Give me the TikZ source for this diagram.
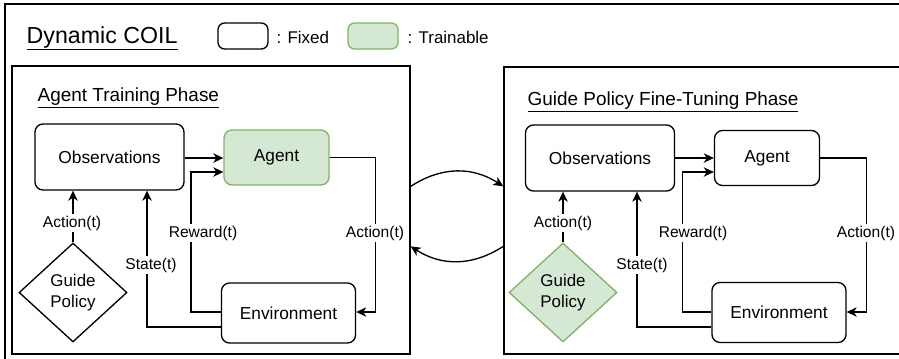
\documentclass[tikz,border=0pt]{standalone}
\usepackage{fontspec}
\setmainfont{Liberation Sans}
\usetikzlibrary{arrows.meta,shapes.geometric,calc}
\definecolor{trainfill}{HTML}{D5E8D4}
\definecolor{trainline}{HTML}{82B366}
\begin{document}
\begin{tikzpicture}[x=0.75pt,y=-0.75pt,
  line width=1pt,
  box/.style={draw, rounded corners=6pt, line width=1pt, inner sep=0pt,
    font=\fontsize{13}{15.6}\selectfont},
  obsbox/.style={box, minimum width=111.75pt, minimum height=49.5pt},
  agentbox/.style={box, minimum width=78.75pt, minimum height=41.25pt},
  envbox/.style={box, minimum width=100.5pt, minimum height=45pt},
  policy/.style={diamond, draw, line width=1pt, inner sep=0pt, align=center,
    minimum width=81pt, minimum height=74.25pt,
    font=\fontsize{12.7}{15.75}\selectfont},
  trainable/.style={fill=trainfill, draw=trainline},
  panel/.style={draw, line width=1pt, inner sep=0pt},
  keybox/.style={draw, rounded corners=5pt, line width=1pt,
    minimum width=37.5pt, minimum height=19.5pt, inner sep=0pt},
  keytext/.style={anchor=base west, inner sep=0pt,
    font=\fontsize{12.7}{15}\selectfont},
  heading/.style={anchor=base west, inner sep=0pt,
    font=\fontsize{14.2}{17}\selectfont},
  lbl/.style={fill=white, inner sep=1pt, font=\fontsize{11.7}{14}\selectfont},
  arr/.style={-{Stealth[length=7.5pt,width=7pt,inset=2.2pt]}, line width=1pt},
]
\clip (0,0) rectangle (899,358);
\useasboundingbox (0,0) rectangle (899,358);

% outer frame (runs past the right and bottom edges)
\draw[line width=1pt] (5,4) rectangle (906,366);

% title and key
\node[anchor=base west, inner sep=0pt, font=\fontsize{17.4}{21}\selectfont]
  (title) at (26,43) {\underline{Dynamic COIL}};
\node[keybox] (kfixed) at (243,36) {};
\node[keytext] (tfixed) at (276,43) {: Fixed};
\node[keybox, trainable] (ktrain) at (373,36) {};
\node[keytext] (ttrain) at (407,43) {: Trainable};

% panels
\node[panel, minimum width=298.5pt, minimum height=216pt] (lp) at (211,210) {};
\node[panel, minimum width=298.5pt, minimum height=215.25pt] (rp) at (703,210.5) {};

% ---- agent training phase ----
\node[heading] (lhead) at (37,101) {\underline{Agent Training Phase}};
\node[obsbox] (obsA) at (109.5,157) {Observations};
\node[agentbox, trainable] (agA) at (276.5,157.5) {Agent};
\node[envbox] (envA) at (288.5,313) {Environment};
\node[policy] (gpA) at (73,292.5) {Guide\\Policy};

\draw[arr] (obsA.east |- 0,158) -- (agA.west |- 0,158);
\draw[arr] ($(envA.west)+(0,-1)$) -- ++(-30,0) |- ($(agA.west)+(0,14.5)$);
\draw[arr] ($(envA.west)+(0,14)$) -| ($(obsA.south)+(37.5,0)$);
\draw[arr] (gpA.north) -- (gpA.north |- obsA.south);
\draw[arr] (agA.east) -- ++(46,0) |- ($(envA.east)+(0,-1)$);

\node[lbl] (laA) at (72,223) {Action(t)};
\node[lbl] (lrA) at (203,233) {Reward(t)};
\node[lbl] (lsA) at (151,265) {State(t)};
\node[lbl] (lbA) at (375,233) {Action(t)};

% ---- guide policy fine-tuning phase ----
\node[heading] (rhead) at (527,105.5) {\underline{Guide Policy Fine-Tuning Phase}};
\node[obsbox] (obsB) at (600,158) {Observations};
\node[agentbox] (agB) at (767,158) {Agent};
\node[envbox] (envB) at (779,312.5) {Environment};
\node[policy, trainable] (gpB) at (563,292.5) {Guide\\Policy};

\draw[arr] (obsB.east |- 0,158) -- (agB.west |- 0,158);
\draw[arr] ($(envB.west)+(0,-0.5)$) -- ++(-29,0) |- ($(agB.west)+(0,14)$);
\draw[arr] ($(envB.west)+(0,14.5)$) -| ($(obsB.south)+(37,0)$);
\draw[arr] (gpB.north) -- (gpB.north |- obsB.south);
\draw[arr] (agB.east) -- ++(46,0) |- ($(envB.east)+(0,-0.5)$);

\node[lbl] (laB) at (563,223) {Action(t)};
\node[lbl] (lrB) at (693,233) {Reward(t)};
\node[lbl] (lsB) at (642,265) {State(t)};
\node[lbl] (lbB) at (866,233) {Action(t)};

% switching between the two phases
\draw[arr] ($(lp.north east)+(0,121)$) .. controls +(31,-20) and +(-31,-20) .. ($(rp.north west)+(0,120)$);
\draw[arr] ($(rp.north west)+(0,180)$) .. controls +(-31,20) and +(31,20) .. ($(lp.north east)+(0,181)$);
\end{tikzpicture}
\end{document}
